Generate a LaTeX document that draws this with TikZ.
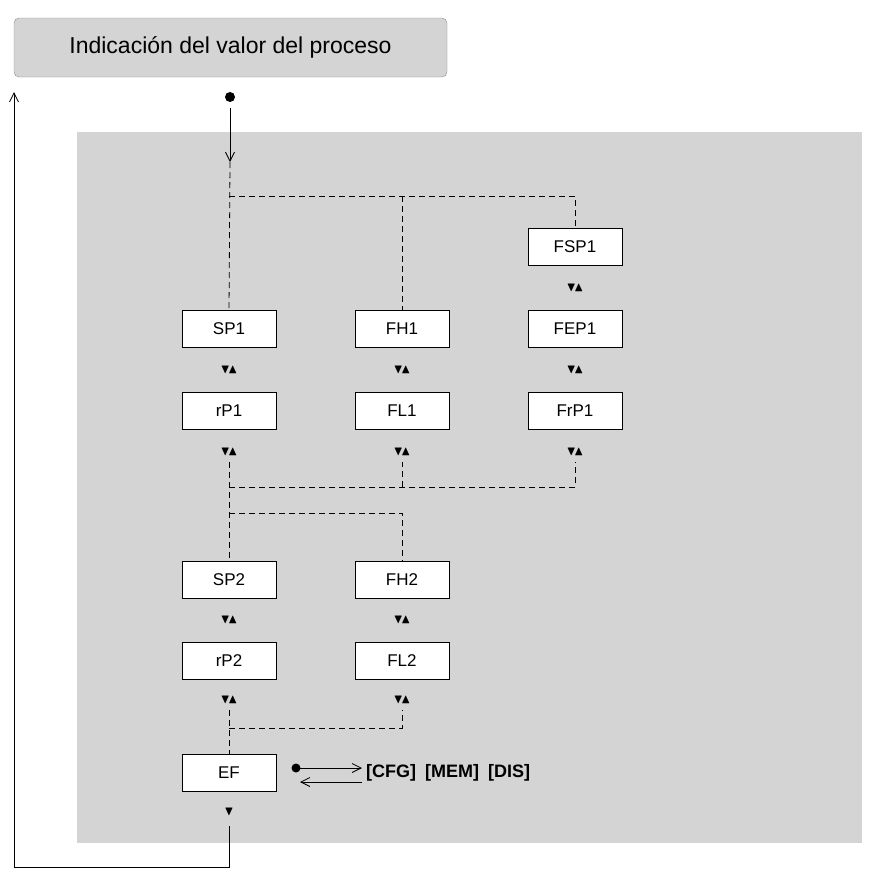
\documentclass[tikz,border=0pt]{standalone}
\usepackage{amssymb}
\usepackage{fontspec}
\setmainfont{Liberation Sans}
\usetikzlibrary{arrows.meta}
\tikzset{
  box/.style={draw,thick,fill=white,minimum width=94pt,minimum height=37pt,inner sep=0pt,font=\fontsize{17}{17}\selectfont},
  updown/.style={font=\fontsize{13}{13}\selectfont,inner sep=0pt},
  dashline/.style={thick,dash pattern=on 6pt off 4pt},
  arr/.style={thick,-{Straight Barb[length=9pt,width=9pt]}}
}
\begin{document}
\begin{tikzpicture}[x=1pt,y=-1pt]
\useasboundingbox (0,0) rectangle (873,879);
\fill[black!17] (77,132) rectangle (862,843);
\node[draw=black!45,fill=black!17,rounded corners=5pt,minimum width=433pt,minimum height=59pt,font=\fontsize{23}{23}\selectfont] (title) at (230.5,47.5) {Indicación del valor del proceso};
% columns
\node[box] (fsp1) at (575,247) {FSP1};
\node[box] (sp1) at (229,329) {SP1};
\node[box] (fh1) at (402,329) {FH1};
\node[box] (fep1) at (575,329) {FEP1};
\node[box] (rp1) at (229,411) {rP1};
\node[box] (fl1) at (402,411) {FL1};
\node[box] (frp1) at (575,411) {FrP1};
\node[box] (sp2) at (229,580) {SP2};
\node[box] (fh2) at (402,580) {FH2};
\node[box] (rp2) at (229,661) {rP2};
\node[box] (fl2) at (402,661) {FL2};
\node[box] (ef) at (229,773) {EF};
\foreach \x/\y in {229/370,402/370,575/288,575/370,229/452,402/452,575/452,229/620,402/620,229/700,402/700}
  \node[updown] at (\x,\y) {$\blacktriangledown\!\blacktriangle$};
\node[updown] (down) at (229,812) {$\blacktriangledown$};
% entry
\fill (230,97) circle (5pt) coordinate (dot);
\coordinate (in) at (230,162);
\draw[arr] (230,108) -- (in);
\draw[dashline] (in) -- (sp1.north);
\draw[dashline] (229,196) -| (fsp1.north);
\draw[dashline] (402,196) -- (fh1.north);
\draw[dashline] (229,462) -- (sp2.north);
\draw[dashline] (229,487) -| (575,462);
\draw[dashline] (402,487) -- (402,462);
\draw[dashline] (229,513) -| (fh2.north);
\draw[dashline] (229,710) -- (ef.north);
\draw[dashline] (229,728) -| (402,710);
% return loop
\coordinate (back) at (14,92);
\draw[arr] (229,826) -- (229,867) -| (back);
% menus
\fill (296,768) circle (4.5pt) coordinate (mdot);
\node[anchor=west,font=\bfseries\fontsize{18}{18}\selectfont,inner sep=0pt] (menu) at (366,773) {[CFG]\enspace[MEM]\enspace[DIS]};
\draw[arr] (mdot) -- (362,768);
\draw[arr] (362,782) -- (300,782);
\end{tikzpicture}
\end{document}
